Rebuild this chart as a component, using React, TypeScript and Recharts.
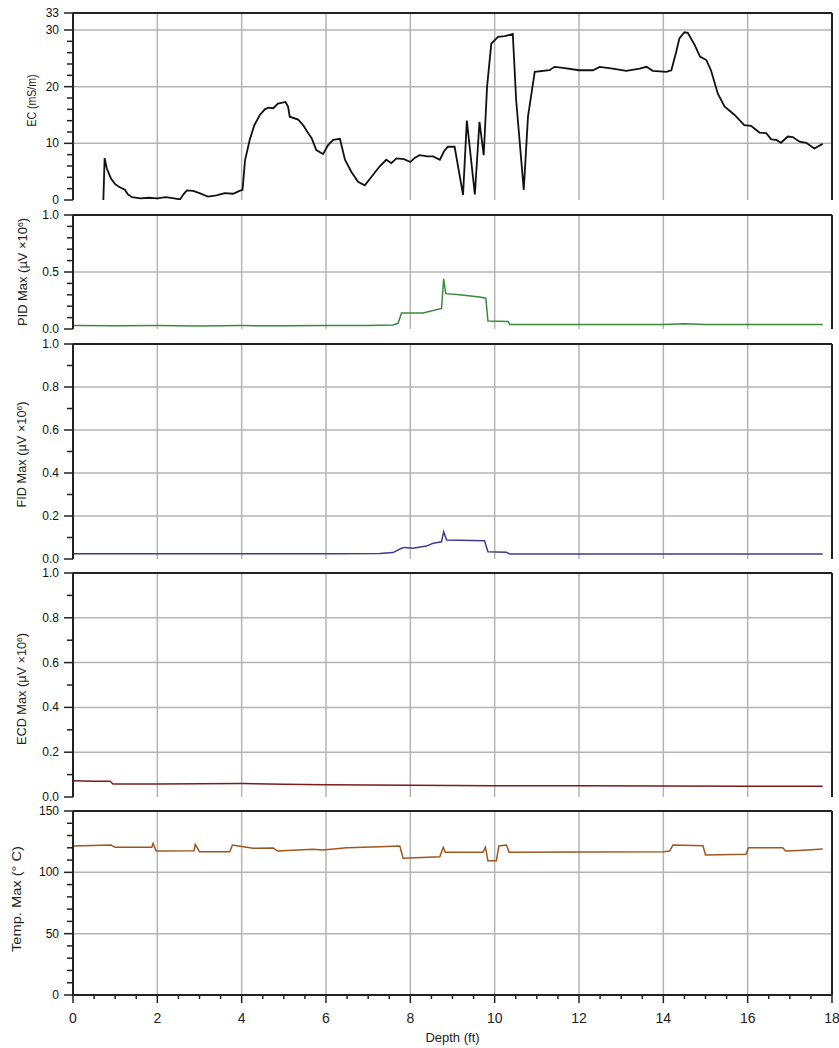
import React from "react";
import { LineChart, Line, XAxis, YAxis, ReferenceLine } from "recharts";

// depth (ft), value
const EC_DATA: [number, number][] = [
  [0.72, 0], [0.75, 7.4], [0.8, 5.6], [0.9, 3.8], [1.0, 2.8], [1.1, 2.3], [1.23, 1.8], [1.3, 1.0],
  [1.4, 0.5], [1.6, 0.3], [1.8, 0.4], [2.0, 0.3], [2.2, 0.5], [2.4, 0.3], [2.54, 0.1], [2.62, 1.0],
  [2.7, 1.7], [2.85, 1.6], [3.0, 1.2], [3.2, 0.6], [3.4, 0.8], [3.6, 1.2], [3.8, 1.1], [3.95, 1.6],
  [4.02, 1.8], [4.08, 7], [4.19, 10.6], [4.3, 13.2], [4.43, 15], [4.55, 16], [4.63, 16.3], [4.75, 16.2],
  [4.86, 17.0], [5.04, 17.3], [5.1, 16.5], [5.14, 14.7], [5.34, 14.2], [5.46, 13.2], [5.56, 12.0],
  [5.66, 10.9], [5.77, 8.8], [5.93, 8.1], [6.05, 9.7], [6.17, 10.6], [6.33, 10.8], [6.45, 7.1],
  [6.6, 5.0], [6.76, 3.2], [6.92, 2.6], [7.08, 4.1], [7.27, 5.9], [7.43, 7.1], [7.55, 6.5], [7.67, 7.35],
  [7.85, 7.2], [8.0, 6.7], [8.1, 7.4], [8.22, 7.9], [8.4, 7.7], [8.54, 7.7], [8.7, 7.1], [8.8, 8.6],
  [8.89, 9.4], [9.05, 9.4], [9.25, 0.9], [9.34, 14.0], [9.53, 1.0], [9.64, 13.8], [9.74, 7.9],
  [9.82, 20], [9.92, 27.6], [10.08, 28.8], [10.24, 28.9], [10.43, 29.3], [10.51, 17.6], [10.69, 1.8],
  [10.79, 14.7], [10.95, 22.6], [11.3, 22.9], [11.42, 23.5], [11.62, 23.3], [12.0, 22.9], [12.33, 22.9],
  [12.49, 23.5], [12.8, 23.2], [13.12, 22.8], [13.44, 23.2], [13.6, 23.5], [13.75, 22.8], [14.07, 22.6],
  [14.19, 22.9], [14.3, 26], [14.38, 28.5], [14.5, 29.6], [14.58, 29.5], [14.74, 27.4], [14.87, 25.3],
  [15.02, 24.7], [15.13, 22.9], [15.29, 18.8], [15.45, 16.5], [15.69, 15], [15.92, 13.2], [16.08, 13.1],
  [16.28, 11.9], [16.44, 11.8], [16.56, 10.7], [16.68, 10.6], [16.79, 10.1], [16.95, 11.2], [17.07, 11.1],
  [17.23, 10.3], [17.39, 10.1], [17.58, 9.1], [17.78, 9.9],
];

const PID_DATA: [number, number][] = [
  [0, 0.03], [1, 0.028], [2, 0.03], [3, 0.027], [4, 0.03], [5, 0.028], [6, 0.03], [7, 0.03],
  [7.59, 0.035], [7.71, 0.05], [7.79, 0.14], [8.3, 0.14], [8.74, 0.18], [8.79, 0.44], [8.84, 0.31],
  [9.17, 0.3], [9.64, 0.28], [9.79, 0.27], [9.84, 0.07], [10.32, 0.065], [10.36, 0.04], [14, 0.04],
  [14.5, 0.045], [15, 0.04], [17.78, 0.04],
];

const FID_DATA: [number, number][] = [
  [0, 0.025], [2, 0.024], [4, 0.025], [6, 0.025], [7.27, 0.026], [7.59, 0.03], [7.79, 0.05],
  [7.87, 0.054], [8.06, 0.05], [8.38, 0.06], [8.54, 0.073], [8.74, 0.08], [8.79, 0.127], [8.86, 0.088],
  [9.76, 0.085], [9.84, 0.034], [10.28, 0.031], [10.36, 0.023], [17.78, 0.023],
];

const ECD_DATA: [number, number][] = [
  [0, 0.072], [0.5, 0.07], [0.88, 0.07], [0.95, 0.058], [2, 0.058], [4, 0.06], [5, 0.057], [6, 0.055],
  [7, 0.054], [8, 0.052], [10, 0.05], [12, 0.05], [14, 0.049], [16, 0.048], [17.78, 0.048],
];

const TEMP_DATA: [number, number][] = [
  [0, 121.5], [0.9, 122.3], [1.0, 120.4], [1.87, 120.4], [1.9, 123.7], [1.97, 117.4], [2.87, 117.6],
  [2.9, 122.8], [3.0, 116.8], [3.72, 116.8], [3.78, 122.3], [4.0, 121], [4.27, 119.6], [4.75, 119.9],
  [4.85, 117.4], [5.69, 118.8], [5.93, 118.3], [6.49, 120.1], [7.27, 120.9], [7.75, 121.5], [7.83, 111.4],
  [8.7, 112.7], [8.78, 120.4], [8.83, 116.3], [9.72, 116.3], [9.78, 120.4], [9.84, 109.5], [10.04, 109.5],
  [10.1, 121.5], [10.28, 122.3], [10.34, 116.3], [14.0, 116.8], [14.15, 117.4], [14.23, 122.3],
  [14.94, 121.7], [15.0, 114.1], [15.96, 114.7], [16.02, 120.1], [16.83, 120.1], [16.9, 117.4],
  [17.23, 117.9], [17.78, 119],
];

const X_GRID = [2, 4, 6, 8, 10, 12, 14, 16];
const X_TICKS = [
  0, 0.5, 1, 1.5, 2, 2.5, 3, 3.5, 4, 4.5, 5, 5.5, 6, 6.5, 7, 7.5, 8, 8.5, 9, 9.5, 10, 10.5, 11, 11.5,
  12, 12.5, 13, 13.5, 14, 14.5, 15, 15.5, 16, 16.5, 17, 17.5, 18,
];
const X_LABELS = [0, 2, 4, 6, 8, 10, 12, 14, 16, 18];

const EC_TICKS = [0, 2, 4, 6, 8, 10, 12, 14, 16, 18, 20, 22, 24, 26, 28, 30, 33];
const EC_MAJOR = [0, 10, 20, 30, 33];
const TENTHS = [0, 0.1, 0.2, 0.3, 0.4, 0.5, 0.6, 0.7, 0.8, 0.9, 1.0];
const PID_MAJOR = [0, 0.5, 1.0];
const FRAC_MAJOR = [0, 0.2, 0.4, 0.6, 0.8, 1.0];
const TEMP_TICKS = [0, 10, 20, 30, 40, 50, 60, 70, 80, 90, 100, 110, 120, 130, 140, 150];
const TEMP_MAJOR = [0, 50, 100, 150];

const FONT = "'Liberation Sans', Arial, Helvetica, sans-serif";
const INK = "#222";
const GRID = "#b4b4b4";

const rows = (d: [number, number][]) => d.map(([x, v]) => ({ d: x, v }));
const isMajor = (list: number[], v: number) => list.some((m) => Math.abs(m - v) < 1e-6);

const micro = (name: string) => (
  <>
    {name} Max (µV ×10
    <tspan dy={-4} fontSize={8}>6</tspan>
    <tspan dy={4}>)</tspan>
  </>
);

const panels = [
  {
    id: "ec", data: EC_DATA, color: "#111", width: 1.8, max: 33, ticks: EC_TICKS, major: EC_MAJOR,
    digits: 0, title: <>EC (mS/m)</>, titleLen: 52, titleX: 36, shift: -6, top: 13, h: 187,
  },
  {
    id: "pid", data: PID_DATA, color: "#3a8a3a", width: 1.5, max: 1, ticks: TENTHS, major: PID_MAJOR,
    digits: 1, title: micro("PID"), titleLen: 108, titleX: 27, shift: 0, top: 215, h: 114,
  },
  {
    id: "fid", data: FID_DATA, color: "#3c3c90", width: 1.5, max: 1, ticks: TENTHS, major: FRAC_MAJOR,
    digits: 1, title: micro("FID"), titleLen: 106, titleX: 26, shift: 3, top: 344, h: 215,
  },
  {
    id: "ecd", data: ECD_DATA, color: "#7a1c1c", width: 1.5, max: 1, ticks: TENTHS, major: FRAC_MAJOR,
    digits: 1, title: micro("ECD"), titleLen: 112, titleX: 26, shift: 4, top: 573, h: 224,
  },
  {
    id: "temp", data: TEMP_DATA, color: "#a0561e", width: 1.5, max: 150, ticks: TEMP_TICKS, major: TEMP_MAJOR,
    digits: 0, title: <>Temp. Max (° C)</>, titleLen: 106, titleX: 21, shift: -4, top: 811, h: 184,
  },
];

export default function App() {
  return (
    <div style={{ position: "absolute", left: 0, top: 0, width: 839, height: 1048, background: "#fff", fontFamily: FONT }}>
      {panels.map((p, i) => {
        const last = i === panels.length - 1;
        const axisH = last ? 52 : 0;
        const mb = last ? 0 : 10;
        const chartH = 10 + p.h + axisH + mb;
        return (
          <div key={p.id} style={{ position: "absolute", left: 0, top: p.top - 10 }}>
            <LineChart width={839} height={chartH} margin={{ top: 10, right: 7, bottom: mb, left: 8 }}>
              <XAxis
                type="number"
                dataKey="d"
                domain={[0, 18]}
                allowDataOverflow
                ticks={last ? X_TICKS : X_LABELS}
                interval={0}
                height={axisH}
                tickSize={0}
                tickMargin={0}
                tickLine={false}
                axisLine={{ stroke: INK, strokeWidth: 2 }}
                tick={
                  last
                    ? ({ x, y, payload }: any) => {
                        const big = isMajor(X_LABELS, payload.value);
                        return (
                          <g>
                            <line x1={x} x2={x} y1={y} y2={y + (big ? 8 : 4)} stroke={INK} strokeWidth={1.5} />
                            {big && (
                              <text x={x} y={y + 28} textAnchor="middle" fontSize={14} fill={INK} fontFamily={FONT}>
                                {payload.value}
                              </text>
                            )}
                          </g>
                        );
                      }
                    : false
                }
                label={
                  last
                    ? {
                        content: (lp: any) => {
                          const vb = lp.viewBox;
                          return (
                            <text x={vb.x + vb.width / 2} y={vb.y + 47} textAnchor="middle" fontSize={13} fill={INK} fontFamily={FONT}>
                              Depth (ft)
                            </text>
                          );
                        },
                      }
                    : undefined
                }
              />
              <YAxis
                type="number"
                domain={[0, p.max]}
                allowDataOverflow
                ticks={p.ticks}
                interval={0}
                width={65}
                tickSize={0}
                tickMargin={0}
                tickLine={false}
                axisLine={{ stroke: INK, strokeWidth: 2 }}
                tick={({ x, y, payload }: any) => {
                  const big = isMajor(p.major, payload.value);
                  return (
                    <g>
                      <line x1={x - (big ? 9 : 6)} x2={x} y1={y} y2={y} stroke={INK} strokeWidth={1.5} />
                      {big && (
                        <text x={x - 14} y={y + 4} textAnchor="end" fontSize={12} fill="#111" fontFamily={FONT}>
                          {payload.value.toFixed(p.digits)}
                        </text>
                      )}
                    </g>
                  );
                }}
                label={{
                  content: (lp: any) => {
                    const vb = lp.viewBox;
                    const cy = vb.y + vb.height / 2 + p.shift;
                    return (
                      <text
                        x={p.titleX}
                        y={cy}
                        transform={`rotate(-90 ${p.titleX} ${cy})`}
                        textAnchor="middle"
                        fontSize={12}
                        fill={INK}
                        fontFamily={FONT}
                        textLength={p.titleLen}
                        lengthAdjust="spacingAndGlyphs"
                      >
                        {p.title}
                      </text>
                    );
                  },
                }}
              />
              {X_GRID.map((g) => (
                <ReferenceLine key={`x${g}`} x={g} stroke={GRID} strokeWidth={1.5} />
              ))}
              {p.major
                .filter((m) => m > 0 && m < p.max)
                .map((m) => (
                  <ReferenceLine key={`y${m}`} y={m} stroke={GRID} strokeWidth={1.5} />
                ))}
              <ReferenceLine x={18} stroke={INK} strokeWidth={2} />
              <ReferenceLine y={p.max} stroke={INK} strokeWidth={2} />
              <Line
                data={rows(p.data)}
                dataKey="v"
                type="linear"
                stroke={p.color}
                strokeWidth={p.width}
                dot={false}
                activeDot={false}
                isAnimationActive={false}
              />
            </LineChart>
          </div>
        );
      })}
    </div>
  );
}
